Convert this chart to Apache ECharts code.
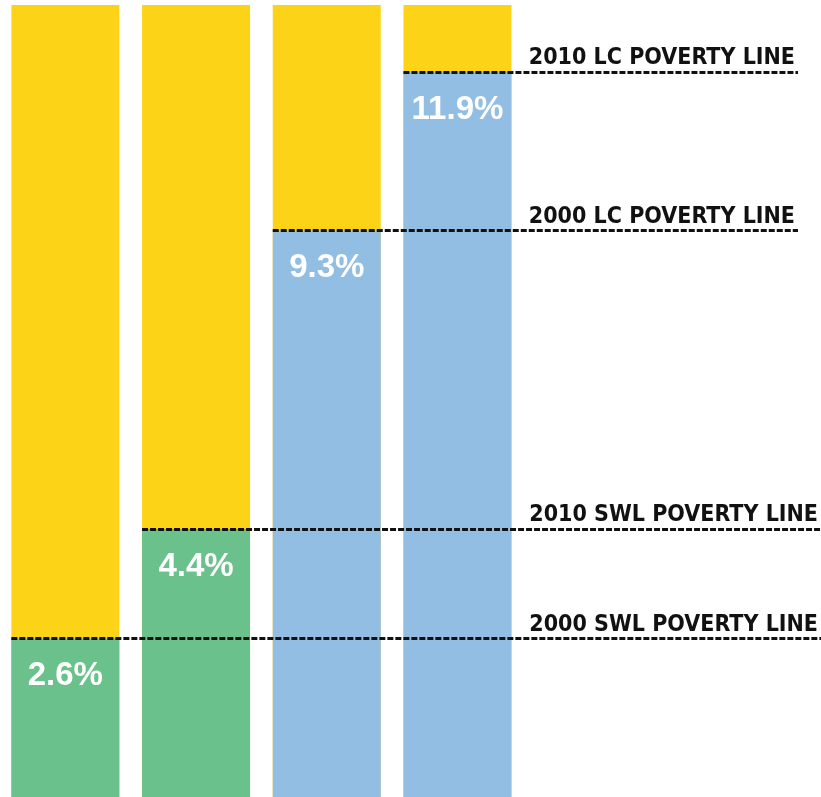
<!DOCTYPE html>
<html lang="en">
<head>
    <meta charset="UTF-8">
    <title>Poverty lines</title>
    <script src="https://cdn.jsdelivr.net/npm/echarts@6/dist/echarts.min.js"></script>
    <style>
        body, html {
            margin: 0;
            padding: 0;
            background: #fff;
        }
        #chart {
            width: 821px;
            height: 797px;
        }
    </style>
</head>
<body>
<div id="chart"></div>
<script>
    // data
    const shares = [2.6, 4.4, 9.3, 11.9];
    const shareColors = ['#6AC18B', '#6AC18B', '#93BEE4', '#93BEE4'];
    const total = 13;
    const lineNames = ['2000 SWL POVERTY LINE', '2010 SWL POVERTY LINE', '2000 LC POVERTY LINE', '2010 LC POVERTY LINE'];
    const lineLong = [true, true, false, false]; // SWL lines run to the right edge

    // layout (pixels)
    const W = 821;
    const BAND = 130.7;
    const BAR_W = 108;
    const toX = px => px / BAND - 0.5;

    const idx = shares.map((_, i) => i);

    const marks = shares.map((v, i) => [
        { coord: [i - BAR_W / 2 / BAND, v], name: lineNames[i] },
        { coord: [toX(lineLong[i] ? W : 798), v] }
    ]);

    const chart = echarts.init(document.getElementById('chart'));
    chart.setOption({
        animation: false,
        grid: { left: 0, right: 0, top: 5, bottom: 0 },
        xAxis: { type: 'value', min: -0.5, max: toX(W), show: false },
        yAxis: { type: 'value', min: 0, max: total, show: false },
        series: [
            {
                // full bar, the yellow remainder shows above the share
                type: 'bar',
                barWidth: BAR_W,
                barGap: '-100%',
                itemStyle: { color: '#FDD317' },
                data: idx.map(i => [i, total]),
                z: 1
            },
            {
                type: 'bar',
                barWidth: BAR_W,
                barGap: '-100%',
                data: idx.map(i => ({ value: [i, shares[i]], itemStyle: { color: shareColors[i] } })),
                label: {
                    show: true,
                    position: 'insideTop',
                    distance: 21,
                    color: '#fff',
                    fontSize: 33,
                    fontWeight: 'bold',
                    fontFamily: 'Liberation Sans, Arial, sans-serif',
                    formatter: p => p.value[1] + '%'
                },
                markLine: {
                    silent: true,
                    symbol: ['none', 'none'],
                    lineStyle: { color: '#111', width: 3, type: [6, 2] },
                    label: {
                        show: true,
                        position: 'insideEndTop',
                        distance: [3, 2],
                        color: '#111',
                        fontSize: 23,
                        fontWeight: 'bold',
                        fontFamily: 'Liberation Sans Narrow, DejaVu Sans Condensed, sans-serif',
                        formatter: p => p.name
                    },
                    data: marks
                },
                z: 2
            }
        ]
    });
</script>
</body>
</html>
